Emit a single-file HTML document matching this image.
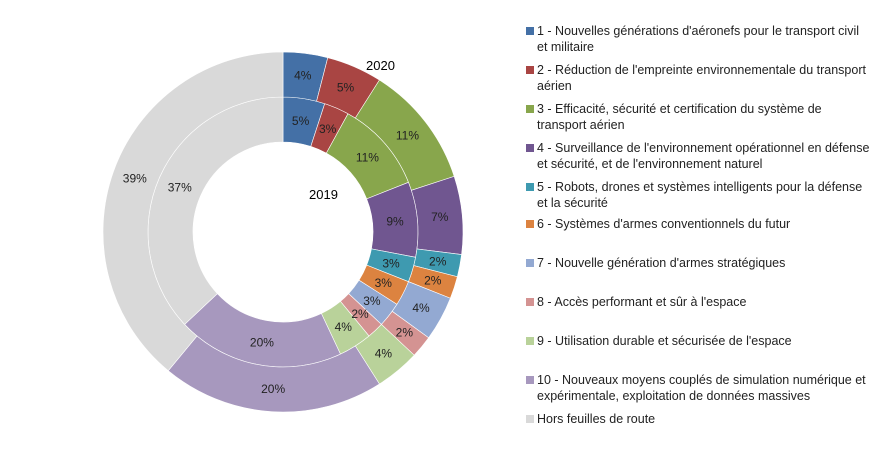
<!DOCTYPE html>
<html><head><meta charset="utf-8"><style>
html,body{margin:0;padding:0;background:#fff;}
svg{display:block;font-family:"Liberation Sans",sans-serif;}
</style></head><body>
<svg id="chart" width="882" height="458" viewBox="0 0 882 458">
<g id="rings"></g>
<g id="labels"></g>
<text x="309" y="199" font-size="13">2019</text>
<text x="366" y="70" font-size="13">2020</text>
<g id="legend"></g>
</svg>
<script>
const categories = [
 ["1 - Nouvelles générations d'aéronefs pour le transport civil","et militaire"],
 ["2 - Réduction de l'empreinte environnementale du transport","aérien"],
 ["3 - Efficacité, sécurité et certification du système de","transport aérien"],
 ["4 - Surveillance de l'environnement opérationnel en défense","et sécurité, et de l'environnement naturel"],
 ["5 - Robots, drones et systèmes intelligents pour la défense","et la sécurité"],
 ["6 - Systèmes d'armes conventionnels du futur"],
 ["7 - Nouvelle génération d'armes stratégiques"],
 ["8 - Accès performant et sûr à l'espace"],
 ["9 - Utilisation durable et sécurisée de l'espace"],
 ["10 - Nouveaux moyens couplés de simulation numérique et","expérimentale, exploitation de données massives"],
 ["Hors feuilles de route"]
];
const values2019 = [5,3,11,9,3,3,3,2,4,20,37];
const values2020 = [4,5,11,7,2,2,4,2,4,20,39];
const colors = ["#4470A6","#A94543","#88A64C","#705690","#3E9AB0","#DC8340","#93A9D2","#D49392","#B9D29A","#A798BE","#D9D9D9"];
const NS="http://www.w3.org/2000/svg";
const cx=283, cy=232;
function pt(r,frac){const a=frac*2*Math.PI;return [cx+r*Math.sin(a), cy-r*Math.cos(a)];}
function arc(r0,r1,f0,f1){
 const large=(f1-f0)>0.5?1:0;
 const a=pt(r1,f0),b=pt(r1,f1),c=pt(r0,f1),d=pt(r0,f0);
 return `M${a[0]},${a[1]}A${r1},${r1} 0 ${large} 1 ${b[0]},${b[1]}L${c[0]},${c[1]}A${r0},${r0} 0 ${large} 0 ${d[0]},${d[1]}Z`;
}
const rings=document.getElementById('rings'), labels=document.getElementById('labels');
function drawRing(vals,r0,r1,year){
 const tot=vals.reduce((s,v)=>s+v,0);let acc=0;
 vals.forEach((v,i)=>{
  const f0=acc/tot,f1=(acc+v)/tot;acc+=v;
  const p=document.createElementNS(NS,'path');
  p.setAttribute('d',arc(r0,r1,f0,f1));
  p.setAttribute('fill',colors[i]);
  p.setAttribute('stroke','#fff');p.setAttribute('stroke-width','0.6');
  
  
  rings.appendChild(p);
  const m=pt((r0+r1)/2,(f0+f1)/2);
  const t=document.createElementNS(NS,'text');
  t.setAttribute('x',m[0]);t.setAttribute('y',m[1]+4);
  t.setAttribute('text-anchor','middle');t.setAttribute('font-size','12');t.setAttribute('fill','#222');
  t.textContent=v+'%';
  
  
  labels.appendChild(t);
 });
}
drawRing(values2019,90,135,'2019');
drawRing(values2020,135,180,'2020');
const legend=document.getElementById('legend');
const rowY=[31,70,109,148,187,224,263,302,341,380,419];
categories.forEach((lines,i)=>{
 const g=document.createElementNS(NS,'g');
 
 
 const r=document.createElementNS(NS,'rect');
 r.setAttribute('x',526);r.setAttribute('y',rowY[i]-4);r.setAttribute('width',8);r.setAttribute('height',8);
 r.setAttribute('fill',colors[i]);
 g.appendChild(r);
 lines.forEach((ln,j)=>{
  const t=document.createElementNS(NS,'text');
  t.setAttribute('x',537);t.setAttribute('y',rowY[i]+4+j*16);
  t.setAttribute('font-size','12.5');t.setAttribute('fill','#222');
  t.textContent=ln;
  g.appendChild(t);
 });
 legend.appendChild(g);
});
</script>
</body></html>
